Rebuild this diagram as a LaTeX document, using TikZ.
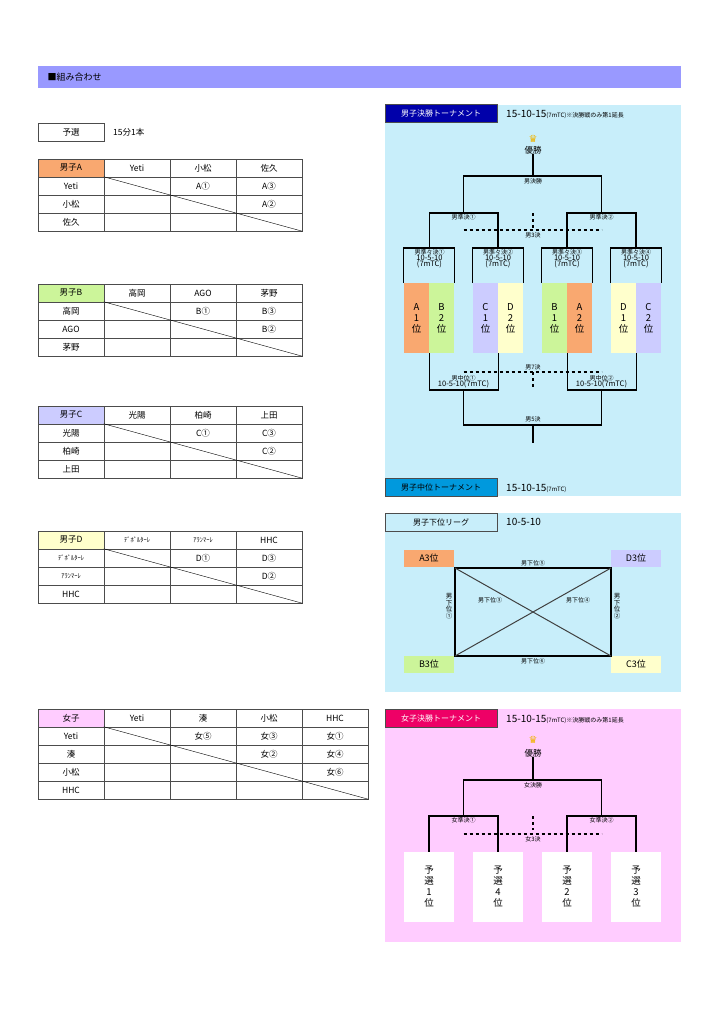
\documentclass[tikz,border=0pt]{standalone}
\usepackage{fontspec}
\setmainfont{Noto Sans CJK JP}
\newfontfamily\symfont{DejaVu Sans}
\usepackage{tikz}
\definecolor{hdrA}{HTML}{F9A870}
\definecolor{hdrB}{HTML}{CCF59A}
\definecolor{hdrC}{HTML}{CCCCFF}
\definecolor{hdrD}{HTML}{FFFFCC}
\definecolor{hdrW}{HTML}{FFCCFF}
\definecolor{bluebg}{HTML}{C8EEFA}
\definecolor{barbg}{HTML}{9999FF}
\definecolor{navy}{HTML}{0000AA}
\definecolor{midblue}{HTML}{0099DD}
\definecolor{rose}{HTML}{EE0066}
\definecolor{gold}{HTML}{F0B400}
\tikzstyle{cell}=[draw=black!70, minimum width=66pt, minimum height=18pt, inner sep=0, font=\fontsize{8.5}{9}\selectfont]
\tikzstyle{title}=[draw=black!70, minimum width=112pt, minimum height=18pt, inner sep=0, font=\fontsize{8}{8}\selectfont]
\tikzstyle{seed}=[minimum width=25pt, minimum height=70pt, inner sep=0, align=center, font=\fontsize{9.5}{11}\selectfont]
\tikzstyle{wseed}=[seed, fill=white, minimum width=50pt]
\tikzstyle{tag}=[minimum width=50pt, minimum height=17pt, inner sep=0, font=\fontsize{9}{9}\selectfont]
\tikzstyle{lbl}=[inner sep=0, font=\fontsize{6}{7}\selectfont, align=center]
\tikzstyle{score}=[inner sep=0, anchor=west, font=\fontsize{10}{10}\selectfont]
\tikzstyle{bracket}=[line width=1.1pt]
\tikzstyle{third}=[line width=1.1pt, dashed]
% table: prefix, center y of header row, header fill, header text, number of teams, teams
\newcommand{\grouptable}[6]{%
  \node[cell, fill=#3] (#1-0-0) at (71,#2) {#4};
  \foreach \t [count=\i] in {#6} {
    \node[cell] (#1-0-\i) at (71+66*\i,#2) {\t};
    \node[cell] (#1-\i-0) at (71,#2+18*\i) {\t};
    \foreach \j in {1,...,#5}
      \node[cell] (#1-\i-\j) at (71+66*\j,#2+18*\i) {};
  }
  \draw (#1-1-1.north west) -- (#1-#5-#5.south east);
}
\begin{document}
\begin{tikzpicture}[x=1pt, y=-1pt]
  \useasboundingbox (0,0) rectangle (724,1024);
  \fill[white] (0,0) rectangle (724,1024);
  % header bar
  \fill[barbg] (38,66) rectangle (681,88);
  \node[anchor=west, font=\fontsize{9}{9}\selectfont] (head) at (44,77) {■組み合わせ};

  % preliminary tables
  \node[cell] (pre) at (71,132) {予選};
  \node[score, font=\fontsize{8.5}{9}\selectfont] (preinfo) at (113,132) {15分1本};
  \grouptable{A}{168}{hdrA}{男子A}{3}{Yeti,小松,佐久}
  \node at (A-1-2) {\fontsize{8.5}{9}\selectfont A①};
  \node at (A-1-3) {\fontsize{8.5}{9}\selectfont A③};
  \node at (A-2-3) {\fontsize{8.5}{9}\selectfont A②};
  \grouptable{B}{293}{hdrB}{男子B}{3}{高岡,AGO,茅野}
  \node at (B-1-2) {\fontsize{8.5}{9}\selectfont B①};
  \node at (B-1-3) {\fontsize{8.5}{9}\selectfont B③};
  \node at (B-2-3) {\fontsize{8.5}{9}\selectfont B②};
  \grouptable{C}{415}{hdrC}{男子C}{3}{光陽,柏崎,上田}
  \node at (C-1-2) {\fontsize{8.5}{9}\selectfont C①};
  \node at (C-1-3) {\fontsize{8.5}{9}\selectfont C③};
  \node at (C-2-3) {\fontsize{8.5}{9}\selectfont C②};
  \grouptable{D}{540}{hdrD}{男子D}{3}{{\fontsize{6.5}{7}\selectfont ﾃﾞﾎﾞﾙﾀｰﾚ},{\fontsize{6.5}{7}\selectfont ｱﾗﾝﾏｰﾚ},HHC}
  \node at (D-1-2) {\fontsize{8.5}{9}\selectfont D①};
  \node at (D-1-3) {\fontsize{8.5}{9}\selectfont D③};
  \node at (D-2-3) {\fontsize{8.5}{9}\selectfont D②};
  \grouptable{W}{718}{hdrW}{女子}{4}{Yeti,湊,小松,HHC}
  \node at (W-1-2) {\fontsize{8.5}{9}\selectfont 女⑤};
  \node at (W-1-3) {\fontsize{8.5}{9}\selectfont 女③};
  \node at (W-1-4) {\fontsize{8.5}{9}\selectfont 女①};
  \node at (W-2-3) {\fontsize{8.5}{9}\selectfont 女②};
  \node at (W-2-4) {\fontsize{8.5}{9}\selectfont 女④};
  \node at (W-3-4) {\fontsize{8.5}{9}\selectfont 女⑥};

  % men's final tournament
  \fill[bluebg] (385,105) rectangle (681,496);
  \node[title, fill=navy, text=white] (mtitle) at (441,113.5) {男子決勝トーナメント};
  \node[score] (mscore) at (506,114) {15-10-15{\fontsize{6}{7}\selectfont (7mTC)※決勝戦のみ第1延長}};
  \node[inner sep=0, text=gold, font=\symfont\fontsize{10}{10}\selectfont] (mcrown) at (533,139) {♛};
  \node[inner sep=0, font=\fontsize{8.5}{9}\selectfont] (mwin) at (533,150) {優勝};
  \node[seed, fill=hdrA] (m1) at (416.5,318) {A\\1\\位};
  \node[seed, fill=hdrB] (m2) at (441.5,318) {B\\2\\位};
  \node[seed, fill=hdrC] (m3) at (485.5,318) {C\\1\\位};
  \node[seed, fill=hdrD] (m4) at (510.5,318) {D\\2\\位};
  \node[seed, fill=hdrB] (m5) at (554.5,318) {B\\1\\位};
  \node[seed, fill=hdrA] (m6) at (579.5,318) {A\\2\\位};
  \node[seed, fill=hdrD] (m7) at (623.5,318) {D\\1\\位};
  \node[seed, fill=hdrC] (m8) at (648.5,318) {C\\2\\位};
  \coordinate (q1) at (429.5,248);
  \coordinate (q2) at (498,248);
  \coordinate (q3) at (567,248);
  \coordinate (q4) at (636,248);
  \coordinate (s1) at (463.5,213);
  \coordinate (s2) at (601.5,213);
  \coordinate (fin) at (533,176);
  \draw[bracket] (m1.north west) |- (q1) -| (m2.north east);
  \draw[bracket] (m3.north west) |- (q2) -| (m4.north east);
  \draw[bracket] (m5.north west) |- (q3) -| (m6.north east);
  \draw[bracket] (m7.north west) |- (q4) -| (m8.north east);
  \draw[bracket] (q1) |- (s1) -| (q2);
  \draw[bracket] (q3) |- (s2) -| (q4);
  \draw[bracket] (s1) |- (fin) -| (s2);
  \draw[bracket] (fin) -- (mwin);
  \foreach \q/\n in {q1/①,q2/②,q3/③,q4/④}
    \node[lbl, anchor=north] at ([yshift=-1.5pt]\q) {男準々決\n\\[-1pt]{\fontsize{7.5}{7.5}\selectfont 10-5-10}\\[-1pt]{\fontsize{7.5}{7.5}\selectfont (7mTC)}};
  \node[lbl, anchor=north] at ([yshift=-1.5pt]s1) {男準決①};
  \node[lbl, anchor=north] at ([yshift=-1.5pt]s2) {男準決②};
  \node[lbl, anchor=north] at ([yshift=-2pt]fin) {男決勝};
  \coordinate (t3a) at (463.5,230);
  \coordinate (t3b) at (601.5,230);
  \coordinate (t3c) at (533,213);
  \coordinate (t3d) at (533,228);
  \draw[third] (t3a) -- (t3b);
  \draw[third] (t3c) -- (t3d);
  \node[lbl] at (533,235.5) {男3決};
  % middle tournament
  \coordinate (c1) at (463.5,390);
  \coordinate (c2) at (601.5,390);
  \coordinate (five) at (533,425);
  \coordinate (fiveend) at (533,443);
  \draw[bracket] (m1.south east) |- (c1) -| (m3.south east);
  \draw[bracket] (m5.south east) |- (c2) -| (m7.south east);
  \draw[bracket] (c1) |- (five) -| (c2);
  \draw[bracket] (five) -- (fiveend);
  \node[lbl, anchor=south] at ([yshift=1.5pt]c1) {男中位①\\[-1pt]{\fontsize{7.5}{7.5}\selectfont 10-5-10(7mTC)}};
  \node[lbl, anchor=south] at ([yshift=1.5pt]c2) {男中位②\\[-1pt]{\fontsize{7.5}{7.5}\selectfont 10-5-10(7mTC)}};
  \node[lbl] at (533,419) {男5決};
  \coordinate (t7a) at (463.5,372);
  \coordinate (t7b) at (601.5,372);
  \coordinate (t7c) at (533,372);
  \coordinate (t7d) at (533,390);
  \draw[third] (t7a) -- (t7b);
  \draw[third] (t7c) -- (t7d);
  \node[lbl] at (533,367) {男7決};
  \node[title, fill=midblue] (ctitle) at (441,487) {男子中位トーナメント};
  \node[score] (cscore) at (506,488) {15-10-15{\fontsize{6}{7}\selectfont (7mTC)}};

  % men's lower league
  \fill[bluebg] (385,513) rectangle (681,692);
  \node[title, fill=bluebg] (ltitle) at (441,522) {男子下位リーグ};
  \node[score] (lscore) at (506,522) {10-5-10};
  \node[tag, fill=hdrA] (a3) at (429,558.5) {A3位};
  \node[tag, fill=hdrC] (d3) at (636,558.5) {D3位};
  \node[tag, fill=hdrB] (b3) at (429,664.5) {B3位};
  \node[tag, fill=hdrD] (c3) at (636,664.5) {C3位};
  \coordinate (la) at (455,568);
  \coordinate (ld) at (611,568);
  \coordinate (lc) at (611,656);
  \coordinate (lb) at (455,656);
  \draw[line width=1.1pt] (la) -- (ld) -- (lc) -- (lb) -- cycle;
  \draw[line width=1pt, black!75] (la) -- (lc);
  \draw[line width=1pt, black!75] (lb) -- (ld);
  \node[lbl] at (533,563) {男下位⑤};
  \node[lbl] at (533,661) {男下位⑥};
  \node[lbl] at (490,600) {男下位③};
  \node[lbl] at (578,600) {男下位④};
  \node[lbl, font=\fontsize{6.5}{6.5}\selectfont] at (449,606) {男\\下\\位\\①};
  \node[lbl, font=\fontsize{6.5}{6.5}\selectfont] at (617,606) {男\\下\\位\\②};

  % women's final tournament
  \fill[hdrW] (385,709) rectangle (681,942);
  \node[title, fill=rose, text=white] (wtitle) at (441,718) {女子決勝トーナメント};
  \node[score] (wscore) at (506,719) {15-10-15{\fontsize{6}{7}\selectfont (7mTC)※決勝戦のみ第1延長}};
  \node[inner sep=0, text=gold, font=\symfont\fontsize{10}{10}\selectfont] (wcrown) at (533,740) {♛};
  \node[inner sep=0, font=\fontsize{8.5}{9}\selectfont] (wwin) at (533,753) {優勝};
  \node[wseed] (w1) at (429,887) {予\\選\\1\\位};
  \node[wseed] (w2) at (498,887) {予\\選\\4\\位};
  \node[wseed] (w3) at (567,887) {予\\選\\2\\位};
  \node[wseed] (w4) at (636,887) {予\\選\\3\\位};
  \coordinate (ws1) at (463.5,816);
  \coordinate (ws2) at (601.5,816);
  \coordinate (wfin) at (533,780);
  \draw[bracket] (w1.north) |- (ws1) -| (w2.north);
  \draw[bracket] (w3.north) |- (ws2) -| (w4.north);
  \draw[bracket] (ws1) |- (wfin) -| (ws2);
  \draw[bracket] (wfin) -- (wwin);
  \node[lbl, anchor=north] at ([yshift=-1.5pt]ws1) {女準決①};
  \node[lbl, anchor=north] at ([yshift=-1.5pt]ws2) {女準決②};
  \node[lbl, anchor=north] at ([yshift=-2pt]wfin) {女決勝};
  \coordinate (w3a) at (463.5,834);
  \coordinate (w3b) at (601.5,834);
  \coordinate (w3c) at (533,816);
  \coordinate (w3d) at (533,830);
  \draw[third] (w3a) -- (w3b);
  \draw[third] (w3c) -- (w3d);
  \node[lbl] at (533,839.5) {女3決};
\end{tikzpicture}
\end{document}
